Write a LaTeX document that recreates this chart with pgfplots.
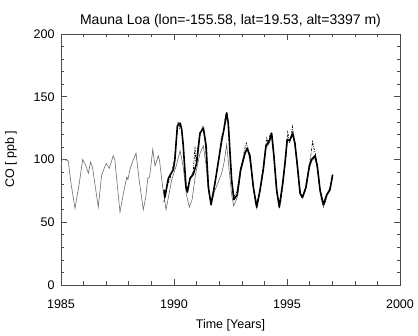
\documentclass[border=0pt]{standalone}
\usepackage{fontspec}
\setmainfont{Liberation Sans}
\usepackage{pgfplots}
\pgfplotsset{compat=1.18}
\usepackage{pgfplotstable}

% model run (thin grey)
\pgfplotstableread{
t co
1985.00 94
1985.05 100
1985.15 100
1985.32 99
1985.45 80
1985.62 61
1985.80 80
1985.96 100
1986.10 95
1986.21 89
1986.31 98
1986.40 93
1986.52 78
1986.65 62
1986.80 88
1986.87 91
1987.00 97
1987.14 93
1987.31 103
1987.38 100
1987.50 78
1987.61 58
1987.75 72
1987.91 86
1987.96 84
1988.05 92
1988.20 100
1988.32 105
1988.45 85
1988.64 60
1988.75 70
1988.84 85
1988.92 86
1989.06 108
1989.16 95
1989.31 103
1989.36 99
1989.50 78
1989.65 60
1989.90 84
1990.10 95
1990.27 107
1990.40 95
1990.55 72
1990.68 62
1990.80 68
1990.95 88
1991.15 105
1991.30 111
1991.42 95
1991.52 76
1991.64 64
1991.80 75
1992.00 84
1992.11 89
1992.22 98
1992.33 112
1992.45 90
1992.55 72
1992.64 63
1992.80 70
1992.95 90
1993.14 104
1993.24 108
1993.36 100
1993.51 77
1993.66 61
1993.81 75
1993.95 91
1994.07 109
1994.22 113
1994.32 119
1994.42 101
1994.54 75
1994.66 62
1994.81 80
1994.91 96
1995.01 114
1995.25 119
1995.35 112
1995.46 93
1995.58 72
1995.69 69
1995.84 77
1995.99 93
1996.09 99
1996.24 101
1996.34 93
1996.46 74
1996.61 62
1996.76 71
1996.90 75
1997.02 86
}\model

% monthly means (thick black)
\pgfplotstableread{
t co
1989.56 76
1989.60 70
1989.75 85
1989.97 92
1990.04 100
1990.15 127
1990.22 128
1990.27 129
1990.34 124
1990.41 111
1990.53 78
1990.59 74
1990.71 85
1990.85 88
1991.00 97
1991.15 121
1991.30 125
1991.42 111
1991.52 78
1991.64 64
1991.81 81
1991.96 98
1992.11 115
1992.21 124
1992.33 137
1992.40 129
1992.55 84
1992.65 68
1992.80 72
1992.95 92
1993.14 105
1993.24 109
1993.36 103
1993.51 78
1993.66 62
1993.81 76
1993.95 92
1994.07 111
1994.22 115
1994.32 121
1994.42 103
1994.54 76
1994.66 62
1994.81 81
1994.91 97
1995.01 116
1995.12 115
1995.25 121
1995.35 113
1995.46 95
1995.58 73
1995.69 70
1995.84 78
1995.99 95
1996.09 100
1996.24 103
1996.34 95
1996.46 76
1996.61 64
1996.76 72
1996.90 76
1997.02 88
}\obs

% individual samples (dash-dot)
\pgfplotstableread{
t co
1989.55 66
1989.62 72
1989.70 80
1989.80 83
1989.90 90
1990.00 98
1990.10 115
1990.18 130
1990.25 125
1990.30 128
1990.38 118
1990.47 95
1990.56 76
1990.65 80
1990.75 87
1990.85 90
1990.93 110
1990.97 98
1991.05 108
1991.12 118
1991.20 122
1991.28 127
1991.36 118
1991.47 92
1991.58 70
1991.70 68
1991.85 85
1992.00 102
1992.10 118
1992.18 122
1992.28 135
1992.34 138
1992.42 125
1992.52 90
1992.62 70
1992.78 74
1992.92 90
1993.05 100
1993.12 108
1993.20 113
1993.30 107
1993.45 88
1993.60 65
1993.75 70
1993.90 88
1994.02 105
1994.10 117
1994.18 113
1994.26 121
1994.35 119
1994.45 97
1994.58 70
1994.72 66
1994.85 85
1994.95 102
1995.03 123
1995.10 113
1995.18 118
1995.24 126
1995.30 118
1995.40 104
1995.52 82
1995.64 70
1995.78 74
1995.92 88
1996.05 103
1996.13 114
1996.18 110
1996.26 104
1996.38 88
1996.52 68
1996.66 64
1996.80 73
1996.95 80
}\samples

\begin{document}
\begin{tikzpicture}
\path[use as bounding box] (-61pt,-51pt) rectangle (357pt,285pt);
\begin{axis}[
    at={(0pt,0pt)}, anchor=south west,
    scale only axis,
    width=339pt, height=251pt,
    xmin=1985, xmax=2000,
    ymin=0, ymax=200,
    xtick={1985,1990,1995,2000},
    ytick={0,50,100,150,200},
    minor x tick num=4,
    minor y tick num=4,
    tick align=inside,
    major tick length=6pt,
    minor tick length=3.5pt,
    xticklabel style={/pgf/number format/1000 sep={}, yshift=-11pt},
    yticklabel style={xshift=-3pt},
    /pgf/number format/assume math mode=true,
    ticklabel style={font=\fontsize{12.5}{14}\selectfont},
    label style={font=\fontsize{12.5}{14}\selectfont},
    title style={font=\fontsize{14}{16}\selectfont, yshift=-3pt},
    title={Mauna Loa (lon=-155.58, lat=19.53, alt=3397 m)},
    xlabel={Time [Years]},
    ylabel={CO [ ppb ]},
    xlabel style={yshift=-4pt},
    ylabel style={yshift=10pt},
    axis line style={black!70, line width=0.6pt},
    every tick/.style={black!70, line width=0.6pt},
]
\addplot[gray!85!black, line width=0.6pt] table[x=t, y=co] {\model};
\addplot[black, line width=0.7pt, dash pattern=on 2pt off 1.2pt on 0.6pt off 1.2pt] table[x=t, y=co] {\samples};
\addplot[black, line width=1.6pt, line join=round] table[x=t, y=co] {\obs};
\end{axis}
\end{tikzpicture}
\end{document}
